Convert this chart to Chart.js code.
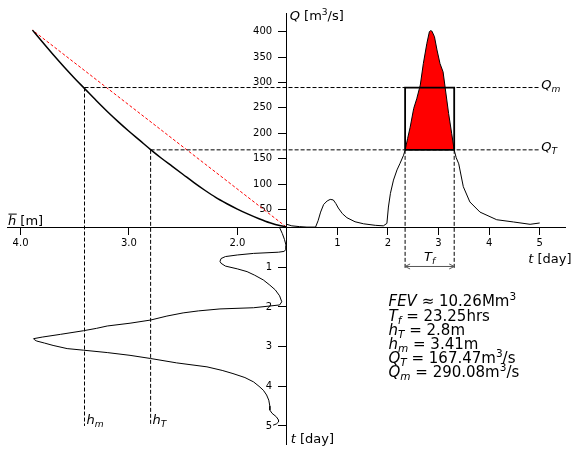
<!DOCTYPE html>
<html>
<head>
<meta charset="utf-8">
<script src="https://cdn.jsdelivr.net/npm/chart.js@4.4.1/dist/chart.umd.min.js"></script>
<style>
    html, body { margin: 0; padding: 0; background: #fff; }
    canvas { display: block; }
</style>
</head>
<body>
<canvas id="myChart" width="578" height="455"></canvas>
<script>
// discharge hydrograph Q(t), t in days, Q in m3/s
const tHydro = [0, 0.1, 0.25, 0.4, 0.57, 0.62, 0.67, 0.73, 0.8, 0.86, 0.92, 0.97, 1.02, 1.1, 1.19, 1.35, 1.52, 1.75, 1.91, 1.98,
    2.01, 2.05, 2.11, 2.18, 2.24, 2.31, 2.34, 2.39, 2.44, 2.51, 2.57, 2.64, 2.7, 2.77, 2.82, 2.84, 2.87, 2.92, 2.97, 3.03,
    3.09, 3.13, 3.2, 3.26, 3.31, 3.35, 3.4, 3.49, 3.62, 3.82, 4.15, 4.48, 4.81, 5.0];
const qHydro = [21, 18, 16.5, 15.5, 15.5, 28, 45, 60, 67, 70, 69, 62, 53, 42, 34, 26, 22, 19, 18, 22.8,
    55, 82, 108, 128, 141, 157, 167, 190, 212, 249, 268, 295, 337, 377, 400, 402, 401, 390, 364, 337,
    321, 291, 239, 200, 167, 152, 140, 95, 65, 45, 30, 25.6, 21, 23.6];

// stage hydrograph h(t), h in m
const tStage = [0, 0.15, 0.3, 0.45, 0.55, 0.6, 0.62, 0.65, 0.69, 0.73, 0.78, 0.85, 0.9, 0.97, 1.04, 1.11, 1.2, 1.32, 1.45, 1.57,
    1.72, 1.87, 1.95, 2.02, 2.05, 2.1, 2.15, 2.23, 2.33, 2.41, 2.48, 2.54, 2.6, 2.69, 2.76, 2.8, 2.83, 2.86, 2.91, 2.97,
    3.05, 3.09, 3.15, 3.22, 3.3, 3.41, 3.51, 3.6, 3.68, 3.78, 3.89, 4.0, 4.1, 4.22, 4.35, 4.5, 4.6, 4.68, 4.77, 4.85,
    4.9, 4.95, 4.98];
const hStage = [1.61, 1.585, 1.565, 1.55, 1.55, 1.57, 1.62, 1.85, 2.0, 2.11, 2.15, 2.16, 2.15, 2.11, 2.0, 1.91, 1.84, 1.76, 1.7, 1.65,
    1.61, 1.59, 1.61, 1.85, 2.16, 2.36, 2.5, 2.65, 2.8, 2.99, 3.2, 3.3, 3.42, 3.63, 3.8, 3.88, 3.87, 3.85, 3.78, 3.7,
    3.57, 3.42, 3.2, 2.99, 2.8, 2.56, 2.28, 2.14, 2.04, 1.93, 1.85, 1.8, 1.76, 1.73, 1.71, 1.7, 1.7, 1.68, 1.64, 1.62,
    1.62, 1.64, 1.67];

// rating curve Q(h)
const hRating = [1.55, 1.6, 1.7, 1.8, 1.9, 2.0, 2.1, 2.2, 2.3, 2.4, 2.5, 2.6, 2.7, 2.8, 2.9, 3.0, 3.1, 3.2, 3.3, 3.4, 3.5, 3.6, 3.7, 3.8, 3.89];
const qRating = [16, 18, 24, 32, 41, 51, 62, 74, 88, 103, 119, 135, 151, 168, 186, 204, 223, 243, 264, 286, 308, 331, 355, 380, 403];

// tick values
const qTicks = [50, 100, 150, 200, 250, 300, 350, 400];
const tTicks = [1, 2, 3, 4, 5];
const hTicks = [4, 3, 2];

// flood event values
const QT = 167.47;
const Qm = 290.08;
const hT = 2.8;
const hm = 3.41;
const tStart = 2.34;
const tEnd = 3.31;
const tGuideEnd = 5.0;
const tArrow = 0.98;
const tGuideBottom = 5.0;
const FEV = 10.26;
const TfHours = 23.25;

const FONT = '"DejaVu Sans"';
Chart.defaults.font.family = FONT;
Chart.defaults.color = "#000";

const toPoints = (xs, ys) => xs.map((v, i) => ({ x: v, y: ys[i] }));

const hydroPoints = toPoints(tHydro, qHydro);
const stagePoints = toPoints(hStage, tStage);
const ratingPoints = toPoints(hRating, qRating);

const fillPoints = [{ x: tStart, y: QT }]
    .concat(hydroPoints.filter(p => p.x > tStart && p.x < tEnd))
    .concat([{ x: tEnd, y: QT }]);

const boxPoints = [
    { x: tStart, y: QT }, { x: tStart, y: Qm }, { x: tEnd, y: Qm }, { x: tEnd, y: QT }, { x: tStart, y: QT }
];

const axisStyle = (tickLength, values, fmt) => ({
    grid: { drawOnChartArea: false, drawTicks: true, tickLength: tickLength, color: "#000", lineWidth: 1 },
    border: { display: true, color: "#000", width: 1 },
    ticks: { color: "#000", font: { size: 10 }, padding: 3, autoSkip: false, maxRotation: 0, callback: fmt },
    afterBuildTicks: scale => { scale.ticks = values.map(v => ({ value: v })); }
});

// mathtext-like pieces: r roman, i italic, sub italic subscript, sup roman superscript
const drawRich = (ctx, x, y, parts, size, align) => {
    const fontFor = st => {
        const sz = (st === "sub" || st === "sup") ? size * 0.7 : size;
        const it = (st === "i" || st === "sub") ? "italic " : "";
        return it + sz + "px " + FONT;
    };
    let w = 0;
    parts.forEach(([txt, st]) => { ctx.font = fontFor(st); w += ctx.measureText(txt).width; });
    let cx = align === "center" ? x - w / 2 : (align === "right" ? x - w : x);
    parts.forEach(([txt, st]) => {
        ctx.font = fontFor(st);
        let dy = 0;
        if (st === "sub") dy = size * 0.22;
        if (st === "sup") dy = -size * 0.4;
        ctx.fillText(txt, cx, y + dy);
        cx += ctx.measureText(txt).width;
    });
    return w;
};

const guidesPlugin = {
    id: "guides",
    beforeDraw(chart) {
        // vertical axes sit at t = 0: move their labels left of the tick marks
        ["y", "tv"].forEach(id => {
            const scale = chart.scales[id];
            const items = scale.getLabelItems(chart.chartArea);
            if (!items.shifted) {
                items.forEach(it => { it.options.translation[0] -= 14.5; });
                items.shifted = true;
            }
        });
    },
    afterDatasetsDraw(chart) {
        const { ctx } = chart;
        const { x, y, h, tv } = chart.scales;
        const line = (x1, y1, x2, y2) => {
            ctx.beginPath();
            ctx.moveTo(x1, y1);
            ctx.lineTo(x2, y2);
            ctx.stroke();
        };
        ctx.save();
        ctx.strokeStyle = "#000";
        ctx.lineWidth = 1;
        ctx.setLineDash([4, 2]);
        line(h.getPixelForValue(hm), y.getPixelForValue(Qm), x.getPixelForValue(tGuideEnd), y.getPixelForValue(Qm));
        line(h.getPixelForValue(hT), y.getPixelForValue(QT), x.getPixelForValue(tGuideEnd), y.getPixelForValue(QT));
        line(h.getPixelForValue(hm), y.getPixelForValue(Qm), h.getPixelForValue(hm), tv.getPixelForValue(tGuideBottom));
        line(h.getPixelForValue(hT), y.getPixelForValue(QT), h.getPixelForValue(hT), tv.getPixelForValue(tGuideBottom));
        line(x.getPixelForValue(tStart), y.getPixelForValue(QT), x.getPixelForValue(tStart), tv.getPixelForValue(tArrow) + 1.5);
        line(x.getPixelForValue(tEnd), y.getPixelForValue(QT), x.getPixelForValue(tEnd), tv.getPixelForValue(tArrow) + 1.5);

        // T_f double arrow
        ctx.setLineDash([]);
        ctx.strokeStyle = "#555";
        const ax1 = x.getPixelForValue(tStart);
        const ax2 = x.getPixelForValue(tEnd);
        const ay = tv.getPixelForValue(tArrow);
        line(ax1, ay, ax2, ay);
        line(ax1, ay, ax1 + 5, ay - 2.5);
        line(ax1, ay, ax1 + 5, ay + 2.5);
        line(ax2, ay, ax2 - 5, ay - 2.5);
        line(ax2, ay, ax2 - 5, ay + 2.5);
        ctx.restore();
    },
    afterDraw(chart) {
        const { ctx, chartArea } = chart;
        const { x, y, h, tv } = chart.scales;
        ctx.save();
        ctx.fillStyle = "#000";
        ctx.textBaseline = "alphabetic";
        ctx.textAlign = "left";

        const x0 = x.getPixelForValue(0);
        const y0 = tv.getPixelForValue(0);

        // axis labels
        drawRich(ctx, x0 + 3, chartArea.top + 7, [["Q", "i"], [" [m", "r"], ["3", "sup"], ["/s]", "r"]], 13);
        const hw = drawRich(ctx, chartArea.left + 1, y0 - 2.5, [["h", "i"]], 13);
        ctx.fillRect(chartArea.left + 1.5, y0 - 14, hw, 1);
        drawRich(ctx, chartArea.left + 1 + hw, y0 - 2.5, [[" [m]", "r"]], 13);
        drawRich(ctx, x.getPixelForValue(5) - 11.5, y0 + 35, [["t", "i"], [" [day]", "r"]], 13);
        drawRich(ctx, x0 + 4, chartArea.bottom - 1, [["t", "i"], [" [day]", "r"]], 13);

        // guide labels
        drawRich(ctx, x.getPixelForValue(tGuideEnd) + 1.5, y.getPixelForValue(Qm) + 1.5, [["Q", "i"], ["m", "sub"]], 13);
        drawRich(ctx, x.getPixelForValue(tGuideEnd) + 1.5, y.getPixelForValue(QT) + 1.5, [["Q", "i"], ["T", "sub"]], 13);
        drawRich(ctx, h.getPixelForValue(hm) + 2, tv.getPixelForValue(tGuideBottom) - 1.5, [["h", "i"], ["m", "sub"]], 13);
        drawRich(ctx, h.getPixelForValue(hT) + 2, tv.getPixelForValue(tGuideBottom) - 1.5, [["h", "i"], ["T", "sub"]], 13);
        drawRich(ctx, (x.getPixelForValue(tStart) + x.getPixelForValue(tEnd)) / 2, tv.getPixelForValue(tArrow) - 5,
            [["T", "i"], ["f", "sub"]], 13, "center");

        // summary block
        const bx = 388.5;
        const lines = [
            [["FEV", "i"], [" \u2248 " + FEV.toFixed(2) + "Mm", "r"], ["3", "sup"]],
            [["T", "i"], ["f", "sub"], [" = " + TfHours.toFixed(2) + "hrs", "r"]],
            [["h", "i"], ["T", "sub"], [" = " + hT + "m", "r"]],
            [["h", "i"], ["m", "sub"], [" = " + hm + "m", "r"]],
            [["Q", "i"], ["T", "sub"], [" = " + QT.toFixed(2) + "m", "r"], ["3", "sup"], ["/s", "r"]],
            [["Q", "i"], ["m", "sub"], [" = " + Qm.toFixed(2) + "m", "r"], ["3", "sup"], ["/s", "r"]]
        ];
        const baselines = [306, 321, 335, 349, 363, 377];
        lines.forEach((parts, i) => drawRich(ctx, bx, baselines[i], parts, 15));
        ctx.restore();
    }
};

new Chart("myChart", {
    type: "scatter",
    data: {
        datasets: [
            {
                data: boxPoints, xAxisID: "x", yAxisID: "y",
                showLine: true, borderColor: "#000", borderWidth: 1.8, pointRadius: 0, fill: false
            },
            {
                data: hydroPoints, xAxisID: "x", yAxisID: "y",
                showLine: true, borderColor: "#000", borderWidth: 1, pointRadius: 0, fill: false
            },
            {
                data: fillPoints, xAxisID: "x", yAxisID: "y",
                showLine: true, borderColor: "rgba(0,0,0,0)", borderWidth: 0, pointRadius: 0,
                backgroundColor: "#ff0000", fill: { value: QT }
            },
            {
                data: ratingPoints, xAxisID: "h", yAxisID: "y",
                showLine: true, borderColor: "#000", borderWidth: 1.5, pointRadius: 0, fill: false,
                cubicInterpolationMode: "monotone"
            },
            {
                data: [ratingPoints[0], ratingPoints[ratingPoints.length - 1]], xAxisID: "h", yAxisID: "y",
                showLine: true, borderColor: "#ff0000", borderWidth: 1, borderDash: [3, 2], pointRadius: 0, fill: false
            },
            {
                data: stagePoints, xAxisID: "h", yAxisID: "tv",
                showLine: true, borderColor: "#000", borderWidth: 1, pointRadius: 0, fill: false
            }
        ]
    },
    options: {
        responsive: false,
        animation: false,
        layout: { padding: { left: 7, top: 13, right: 13, bottom: 11 } },
        plugins: {
            legend: { display: false },
            tooltip: { enabled: false }
        },
        scales: {
            x: Object.assign({ type: "linear", axis: "x", position: { tv: 0 }, min: -5.528, max: 5.5 },
                axisStyle(7, tTicks, v => String(v))),
            h: Object.assign({ type: "linear", axis: "x", position: { tv: 0 }, reverse: true, min: -1.023, max: 4.125 },
                axisStyle(7, hTicks, v => v.toFixed(1))),
            y: Object.assign({ type: "linear", axis: "y", position: { x: 0 }, min: -411.2, max: 436.7 },
                axisStyle(8, qTicks, v => String(v))),
            tv: Object.assign({ type: "linear", axis: "y", position: { x: 0 }, reverse: true, min: -5.41, max: 5.455 },
                axisStyle(8, tTicks, v => String(v)))
        }
    },
    plugins: [guidesPlugin]
});
</script>
</body>
</html>
